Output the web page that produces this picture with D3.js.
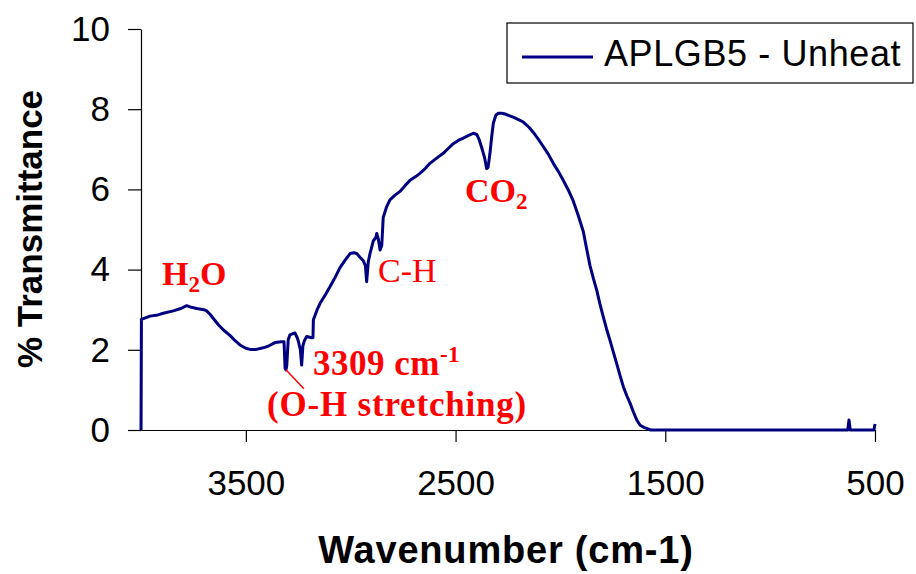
<!DOCTYPE html>
<html>
<head>
<meta charset="utf-8">
<script src="https://cdn.jsdelivr.net/npm/d3@7"></script>
<style>
  html, body { margin: 0; padding: 0; background: #fff; }
  svg { display: block; }
</style>
</head>
<body>
<svg id="chart" width="916" height="574"></svg>
<script>
// ---- Data ----
const seriesName = "APLGB5 - Unheat";
const wavenumbers = [4000, 3998, 3957, 3920, 3894, 3846, 3810, 3782, 3760, 3734, 3700, 3687, 3670, 3655, 3630, 3608, 3576, 3550, 3528, 3500, 3480, 3450, 3417, 3390, 3361, 3330, 3318, 3313, 3309, 3305, 3298, 3290, 3266, 3255, 3250, 3240, 3234, 3228, 3220, 3210, 3186, 3180, 3178, 3160, 3146, 3120, 3099, 3075, 3051, 3025, 3003, 2985, 2971, 2955, 2940, 2930, 2924, 2916, 2908, 2892, 2880, 2876, 2868, 2860, 2852, 2845, 2830, 2813, 2790, 2765, 2740, 2717, 2690, 2670, 2645, 2622, 2590, 2559, 2535, 2511, 2487, 2463, 2440, 2415, 2399, 2388, 2376, 2362, 2352, 2345, 2336, 2328, 2320, 2308, 2296, 2280, 2264, 2245, 2225, 2200, 2177, 2150, 2129, 2105, 2082, 2058, 2034, 2010, 1986, 1962, 1938, 1915, 1891, 1875, 1859, 1843, 1827, 1812, 1796, 1780, 1764, 1748, 1732, 1716, 1700, 1684, 1668, 1652, 1636, 1620, 1600, 1589, 1570, 1500, 1200, 900, 640, 630, 624, 618, 610, 520, 505, 500];
const transmittance = [0, 2.76, 2.84, 2.87, 2.91, 2.97, 3.03, 3.10, 3.06, 3.03, 3.00, 2.97, 2.88, 2.78, 2.62, 2.50, 2.36, 2.22, 2.12, 2.04, 2.01, 2.01, 2.05, 2.10, 2.18, 2.20, 2.20, 1.54, 1.50, 1.60, 2.25, 2.37, 2.42, 2.30, 2.22, 2.00, 1.62, 2.10, 2.24, 2.33, 2.30, 2.30, 2.75, 3.00, 3.16, 3.38, 3.57, 3.80, 4.05, 4.25, 4.40, 4.42, 4.40, 4.30, 4.22, 4.10, 3.70, 4.20, 4.40, 4.72, 4.80, 4.90, 4.75, 4.49, 4.60, 5.30, 5.55, 5.74, 5.85, 5.95, 6.10, 6.23, 6.32, 6.40, 6.52, 6.65, 6.78, 6.90, 7.02, 7.14, 7.22, 7.28, 7.34, 7.40, 7.37, 7.25, 7.05, 6.80, 6.52, 6.55, 6.90, 7.30, 7.65, 7.85, 7.90, 7.90, 7.88, 7.84, 7.80, 7.74, 7.68, 7.55, 7.42, 7.25, 7.07, 6.88, 6.65, 6.45, 6.22, 5.98, 5.70, 5.35, 4.95, 4.52, 4.10, 3.78, 3.49, 3.15, 2.83, 2.52, 2.24, 1.95, 1.66, 1.36, 1.08, 0.86, 0.67, 0.45, 0.25, 0.12, 0.06, 0.04, 0, 0, 0, 0, 0, 0, 0.25, 0, 0, 0, 0, 0.15];
const xTickValues = [3500, 2500, 1500, 500];
const yTickValues = [0, 2, 4, 6, 8, 10];
const xTitle = "Wavenumber (cm-1)";
const yTitle = "% Transmittance";

const points = wavenumbers.map((w, i) => ({ w: w, t: transmittance[i] }));

// ---- Layout ----
const svg = d3.select("#chart");
const sans = "'Liberation Sans', Arial, sans-serif";
const serif = "'Liberation Serif', 'Times New Roman', serif";
const lineColor = "#000080";
const red = "#ff0000";

const x = d3.scaleLinear().domain([4000, 500]).range([141, 875]);
const y = d3.scaleLinear().domain([0, 10]).range([430, 29]);

// Y axis
const yAxis = svg.append("g")
  .attr("transform", "translate(141,0)")
  .call(d3.axisLeft(y).tickValues(yTickValues).tickSize(13).tickSizeOuter(0).tickPadding(18).tickFormat(d3.format("d")));
// X axis
const xAxis = svg.append("g")
  .attr("transform", "translate(0,430)")
  .call(d3.axisBottom(x).tickValues(xTickValues).tickSize(12).tickSizeOuter(0).tickPadding(28).tickFormat(d3.format("d")));

[yAxis, xAxis].forEach(g => {
  g.selectAll("path.domain").attr("stroke", "#000").attr("stroke-width", 1.2);
  g.selectAll(".tick line").attr("stroke", "#000").attr("stroke-width", 1.2);
  g.selectAll(".tick text").attr("fill", "#000").style("font-family", sans).style("font-size", "35px");
});

// Data line
const line = d3.line().x(d => x(d.w)).y(d => y(d.t)).curve(d3.curveLinear);
svg.append("path")
  .datum(points)
  .attr("d", line)
  .attr("fill", "none")
  .attr("stroke", lineColor)
  .attr("stroke-width", 3)
  .attr("stroke-linejoin", "round");

// Axis titles
svg.append("text")
  .attr("x", 506).attr("y", 563)
  .attr("text-anchor", "middle")
  .style("font-family", sans).style("font-weight", "bold").style("font-size", "38px")
  .style("letter-spacing", "0.8px")
  .attr("fill", "#000")
  .text(xTitle);
svg.append("text")
  .attr("transform", "translate(42,229) rotate(-90)")
  .attr("text-anchor", "middle")
  .style("font-family", sans).style("font-weight", "bold").style("font-size", "35px")
  .attr("fill", "#000")
  .text(yTitle);

// Legend
const legend = svg.append("g");
legend.append("rect")
  .attr("x", 507).attr("y", 23).attr("width", 406).attr("height", 60)
  .attr("fill", "#fff").attr("stroke", "#000").attr("stroke-width", 1.2);
legend.append("line")
  .attr("x1", 522).attr("x2", 593).attr("y1", 57).attr("y2", 57)
  .attr("stroke", lineColor).attr("stroke-width", 3);
legend.append("text")
  .attr("x", 604).attr("y", 66)
  .style("font-family", sans).style("font-size", "36px")
  .style("letter-spacing", "0.6px")
  .attr("fill", "#000")
  .text(seriesName);

// Annotations
const ann = svg.append("g").attr("fill", red).style("font-family", serif).style("font-size", "34px");

const h2o = ann.append("text").attr("x", 162).attr("y", 285).style("font-weight", "bold");
h2o.append("tspan").text("H");
h2o.append("tspan").attr("dy", 7).style("font-size", "23px").text("2");
h2o.append("tspan").attr("dy", -7).text("O");

ann.append("text").attr("x", 378).attr("y", 282).text("C-H");

const co2 = ann.append("text").attr("x", 465).attr("y", 202).style("font-weight", "bold");
co2.append("tspan").text("CO");
co2.append("tspan").attr("dy", 7).style("font-size", "23px").text("2");

const oh = ann.append("text").attr("x", 313).attr("y", 375).style("font-weight", "bold").style("font-size", "35px").style("letter-spacing", "0.5px");
oh.append("tspan").text("3309 cm");
oh.append("tspan").attr("dy", -13).style("font-size", "23px").text("-1");

ann.append("text").attr("x", 267).attr("y", 416).style("font-weight", "bold").style("font-size", "35px").style("letter-spacing", "0.8px").text("(O-H stretching)");

svg.append("line")
  .attr("x1", x(3309)).attr("y1", y(1.5))
  .attr("x2", x(3309) + 18).attr("y2", y(1.5) + 19)
  .attr("stroke", red).attr("stroke-width", 1.5);
</script>
</body>
</html>
